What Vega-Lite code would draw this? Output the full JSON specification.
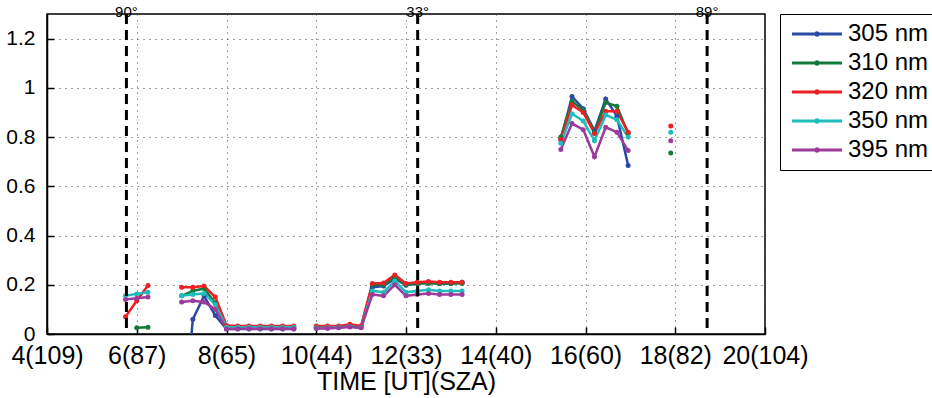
{
 "$schema": "https://vega.github.io/schema/vega-lite/v6.json",
 "width": 718, "height": 320,
 "autosize": {"type": "none"},
 "padding": {"left": 47, "top": 14, "right": 167, "bottom": 64},
 "background": "white",
 "config": {
  "font": "Liberation Sans",
  "view": {"stroke": "black", "strokeWidth": 1.5},
  "axis": {"labelFontSize": 21, "titleFontSize": 25, "labelColor": "black", "titleColor": "black", "titleFontWeight": "normal", "domainColor": "black", "domainWidth": 1.5, "tickColor": "black", "tickWidth": 1.5, "gridColor": "#444", "gridDash": [1, 5], "gridWidth": 1, "labelOverlap": false, "labelFlush": false},
  "legend": {"labelFontSize": 24, "labelColor": "black"}
 },
 "datasets": {
  "meas": [
   {"t": 6.0, "v": 0.025, "w": "310 nm", "s": 1}, {"t": 6.25, "v": 0.027, "w": "310 nm", "s": 1},
   {"t": 5.75, "v": 0.07, "w": "320 nm", "s": 1}, {"t": 6.0, "v": 0.135, "w": "320 nm", "s": 1}, {"t": 6.25, "v": 0.197, "w": "320 nm", "s": 1},
   {"t": 5.75, "v": 0.155, "w": "350 nm", "s": 1}, {"t": 6.0, "v": 0.163, "w": "350 nm", "s": 1}, {"t": 6.25, "v": 0.17, "w": "350 nm", "s": 1},
   {"t": 5.75, "v": 0.14, "w": "395 nm", "s": 1}, {"t": 6.0, "v": 0.145, "w": "395 nm", "s": 1}, {"t": 6.25, "v": 0.15, "w": "395 nm", "s": 1},

   {"t": 7.0, "v": -0.45, "w": "305 nm", "s": 2}, {"t": 7.25, "v": 0.06, "w": "305 nm", "s": 2}, {"t": 7.5, "v": 0.155, "w": "305 nm", "s": 2}, {"t": 7.75, "v": 0.075, "w": "305 nm", "s": 2}, {"t": 8.0, "v": 0.02, "w": "305 nm", "s": 2}, {"t": 8.25, "v": 0.02, "w": "305 nm", "s": 2}, {"t": 8.5, "v": 0.02, "w": "305 nm", "s": 2}, {"t": 8.75, "v": 0.02, "w": "305 nm", "s": 2}, {"t": 9.0, "v": 0.02, "w": "305 nm", "s": 2}, {"t": 9.25, "v": 0.02, "w": "305 nm", "s": 2}, {"t": 9.5, "v": 0.02, "w": "305 nm", "s": 2},
   {"t": 7.0, "v": 0.155, "w": "310 nm", "s": 2}, {"t": 7.25, "v": 0.175, "w": "310 nm", "s": 2}, {"t": 7.5, "v": 0.185, "w": "310 nm", "s": 2}, {"t": 7.75, "v": 0.125, "w": "310 nm", "s": 2}, {"t": 8.0, "v": 0.025, "w": "310 nm", "s": 2}, {"t": 8.25, "v": 0.025, "w": "310 nm", "s": 2}, {"t": 8.5, "v": 0.025, "w": "310 nm", "s": 2}, {"t": 8.75, "v": 0.025, "w": "310 nm", "s": 2}, {"t": 9.0, "v": 0.025, "w": "310 nm", "s": 2}, {"t": 9.25, "v": 0.025, "w": "310 nm", "s": 2}, {"t": 9.5, "v": 0.025, "w": "310 nm", "s": 2},
   {"t": 7.0, "v": 0.19, "w": "320 nm", "s": 2}, {"t": 7.25, "v": 0.19, "w": "320 nm", "s": 2}, {"t": 7.5, "v": 0.195, "w": "320 nm", "s": 2}, {"t": 7.75, "v": 0.15, "w": "320 nm", "s": 2}, {"t": 8.0, "v": 0.035, "w": "320 nm", "s": 2}, {"t": 8.25, "v": 0.033, "w": "320 nm", "s": 2}, {"t": 8.5, "v": 0.033, "w": "320 nm", "s": 2}, {"t": 8.75, "v": 0.033, "w": "320 nm", "s": 2}, {"t": 9.0, "v": 0.033, "w": "320 nm", "s": 2}, {"t": 9.25, "v": 0.033, "w": "320 nm", "s": 2}, {"t": 9.5, "v": 0.033, "w": "320 nm", "s": 2},
   {"t": 7.0, "v": 0.155, "w": "350 nm", "s": 2}, {"t": 7.25, "v": 0.16, "w": "350 nm", "s": 2}, {"t": 7.5, "v": 0.165, "w": "350 nm", "s": 2}, {"t": 7.75, "v": 0.12, "w": "350 nm", "s": 2}, {"t": 8.0, "v": 0.027, "w": "350 nm", "s": 2}, {"t": 8.25, "v": 0.027, "w": "350 nm", "s": 2}, {"t": 8.5, "v": 0.027, "w": "350 nm", "s": 2}, {"t": 8.75, "v": 0.027, "w": "350 nm", "s": 2}, {"t": 9.0, "v": 0.027, "w": "350 nm", "s": 2}, {"t": 9.25, "v": 0.027, "w": "350 nm", "s": 2}, {"t": 9.5, "v": 0.027, "w": "350 nm", "s": 2},
   {"t": 7.0, "v": 0.13, "w": "395 nm", "s": 2}, {"t": 7.25, "v": 0.135, "w": "395 nm", "s": 2}, {"t": 7.5, "v": 0.13, "w": "395 nm", "s": 2}, {"t": 7.75, "v": 0.1, "w": "395 nm", "s": 2}, {"t": 8.0, "v": 0.02, "w": "395 nm", "s": 2}, {"t": 8.25, "v": 0.021, "w": "395 nm", "s": 2}, {"t": 8.5, "v": 0.021, "w": "395 nm", "s": 2}, {"t": 8.75, "v": 0.021, "w": "395 nm", "s": 2}, {"t": 9.0, "v": 0.021, "w": "395 nm", "s": 2}, {"t": 9.25, "v": 0.021, "w": "395 nm", "s": 2}, {"t": 9.5, "v": 0.021, "w": "395 nm", "s": 2},

   {"t": 10.0, "v": 0.025, "w": "305 nm", "s": 3}, {"t": 10.25, "v": 0.025, "w": "305 nm", "s": 3}, {"t": 10.5, "v": 0.027, "w": "305 nm", "s": 3}, {"t": 10.75, "v": 0.03, "w": "305 nm", "s": 3}, {"t": 11.0, "v": 0.027, "w": "305 nm", "s": 3}, {"t": 11.25, "v": 0.19, "w": "305 nm", "s": 3}, {"t": 11.5, "v": 0.195, "w": "305 nm", "s": 3}, {"t": 11.75, "v": 0.225, "w": "305 nm", "s": 3}, {"t": 12.0, "v": 0.198, "w": "305 nm", "s": 3}, {"t": 12.25, "v": 0.205, "w": "305 nm", "s": 3}, {"t": 12.5, "v": 0.21, "w": "305 nm", "s": 3}, {"t": 12.75, "v": 0.205, "w": "305 nm", "s": 3}, {"t": 13.0, "v": 0.205, "w": "305 nm", "s": 3}, {"t": 13.25, "v": 0.21, "w": "305 nm", "s": 3},
   {"t": 10.0, "v": 0.028, "w": "310 nm", "s": 3}, {"t": 10.25, "v": 0.028, "w": "310 nm", "s": 3}, {"t": 10.5, "v": 0.03, "w": "310 nm", "s": 3}, {"t": 10.75, "v": 0.035, "w": "310 nm", "s": 3}, {"t": 11.0, "v": 0.03, "w": "310 nm", "s": 3}, {"t": 11.25, "v": 0.2, "w": "310 nm", "s": 3}, {"t": 11.5, "v": 0.2, "w": "310 nm", "s": 3}, {"t": 11.75, "v": 0.23, "w": "310 nm", "s": 3}, {"t": 12.0, "v": 0.2, "w": "310 nm", "s": 3}, {"t": 12.25, "v": 0.205, "w": "310 nm", "s": 3}, {"t": 12.5, "v": 0.205, "w": "310 nm", "s": 3}, {"t": 12.75, "v": 0.205, "w": "310 nm", "s": 3}, {"t": 13.0, "v": 0.205, "w": "310 nm", "s": 3}, {"t": 13.25, "v": 0.205, "w": "310 nm", "s": 3},
   {"t": 10.0, "v": 0.032, "w": "320 nm", "s": 3}, {"t": 10.25, "v": 0.032, "w": "320 nm", "s": 3}, {"t": 10.5, "v": 0.033, "w": "320 nm", "s": 3}, {"t": 10.75, "v": 0.04, "w": "320 nm", "s": 3}, {"t": 11.0, "v": 0.033, "w": "320 nm", "s": 3}, {"t": 11.25, "v": 0.205, "w": "320 nm", "s": 3}, {"t": 11.5, "v": 0.207, "w": "320 nm", "s": 3}, {"t": 11.75, "v": 0.24, "w": "320 nm", "s": 3}, {"t": 12.0, "v": 0.205, "w": "320 nm", "s": 3}, {"t": 12.25, "v": 0.21, "w": "320 nm", "s": 3}, {"t": 12.5, "v": 0.213, "w": "320 nm", "s": 3}, {"t": 12.75, "v": 0.21, "w": "320 nm", "s": 3}, {"t": 13.0, "v": 0.21, "w": "320 nm", "s": 3}, {"t": 13.25, "v": 0.21, "w": "320 nm", "s": 3},
   {"t": 10.0, "v": 0.025, "w": "350 nm", "s": 3}, {"t": 10.25, "v": 0.025, "w": "350 nm", "s": 3}, {"t": 10.5, "v": 0.027, "w": "350 nm", "s": 3}, {"t": 10.75, "v": 0.03, "w": "350 nm", "s": 3}, {"t": 11.0, "v": 0.027, "w": "350 nm", "s": 3}, {"t": 11.25, "v": 0.175, "w": "350 nm", "s": 3}, {"t": 11.5, "v": 0.17, "w": "350 nm", "s": 3}, {"t": 11.75, "v": 0.215, "w": "350 nm", "s": 3}, {"t": 12.0, "v": 0.17, "w": "350 nm", "s": 3}, {"t": 12.25, "v": 0.175, "w": "350 nm", "s": 3}, {"t": 12.5, "v": 0.18, "w": "350 nm", "s": 3}, {"t": 12.75, "v": 0.175, "w": "350 nm", "s": 3}, {"t": 13.0, "v": 0.175, "w": "350 nm", "s": 3}, {"t": 13.25, "v": 0.175, "w": "350 nm", "s": 3},
   {"t": 10.0, "v": 0.022, "w": "395 nm", "s": 3}, {"t": 10.25, "v": 0.022, "w": "395 nm", "s": 3}, {"t": 10.5, "v": 0.025, "w": "395 nm", "s": 3}, {"t": 10.75, "v": 0.028, "w": "395 nm", "s": 3}, {"t": 11.0, "v": 0.025, "w": "395 nm", "s": 3}, {"t": 11.25, "v": 0.16, "w": "395 nm", "s": 3}, {"t": 11.5, "v": 0.155, "w": "395 nm", "s": 3}, {"t": 11.75, "v": 0.2, "w": "395 nm", "s": 3}, {"t": 12.0, "v": 0.155, "w": "395 nm", "s": 3}, {"t": 12.25, "v": 0.16, "w": "395 nm", "s": 3}, {"t": 12.5, "v": 0.165, "w": "395 nm", "s": 3}, {"t": 12.75, "v": 0.16, "w": "395 nm", "s": 3}, {"t": 13.0, "v": 0.16, "w": "395 nm", "s": 3}, {"t": 13.25, "v": 0.16, "w": "395 nm", "s": 3},

   {"t": 15.45, "v": 0.79, "w": "305 nm", "s": 4}, {"t": 15.7, "v": 0.965, "w": "305 nm", "s": 4}, {"t": 15.95, "v": 0.915, "w": "305 nm", "s": 4}, {"t": 16.2, "v": 0.825, "w": "305 nm", "s": 4}, {"t": 16.45, "v": 0.955, "w": "305 nm", "s": 4}, {"t": 16.7, "v": 0.885, "w": "305 nm", "s": 4}, {"t": 16.95, "v": 0.685, "w": "305 nm", "s": 4},
   {"t": 15.45, "v": 0.8, "w": "310 nm", "s": 4}, {"t": 15.7, "v": 0.945, "w": "310 nm", "s": 4}, {"t": 15.95, "v": 0.91, "w": "310 nm", "s": 4}, {"t": 16.2, "v": 0.82, "w": "310 nm", "s": 4}, {"t": 16.45, "v": 0.94, "w": "310 nm", "s": 4}, {"t": 16.7, "v": 0.925, "w": "310 nm", "s": 4}, {"t": 16.95, "v": 0.815, "w": "310 nm", "s": 4},
   {"t": 15.45, "v": 0.79, "w": "320 nm", "s": 4}, {"t": 15.7, "v": 0.93, "w": "320 nm", "s": 4}, {"t": 15.95, "v": 0.9, "w": "320 nm", "s": 4}, {"t": 16.2, "v": 0.815, "w": "320 nm", "s": 4}, {"t": 16.45, "v": 0.905, "w": "320 nm", "s": 4}, {"t": 16.7, "v": 0.905, "w": "320 nm", "s": 4}, {"t": 16.95, "v": 0.82, "w": "320 nm", "s": 4},
   {"t": 15.45, "v": 0.775, "w": "350 nm", "s": 4}, {"t": 15.7, "v": 0.895, "w": "350 nm", "s": 4}, {"t": 15.95, "v": 0.865, "w": "350 nm", "s": 4}, {"t": 16.2, "v": 0.785, "w": "350 nm", "s": 4}, {"t": 16.45, "v": 0.89, "w": "350 nm", "s": 4}, {"t": 16.7, "v": 0.87, "w": "350 nm", "s": 4}, {"t": 16.95, "v": 0.8, "w": "350 nm", "s": 4},
   {"t": 15.45, "v": 0.75, "w": "395 nm", "s": 4}, {"t": 15.7, "v": 0.855, "w": "395 nm", "s": 4}, {"t": 15.95, "v": 0.83, "w": "395 nm", "s": 4}, {"t": 16.2, "v": 0.72, "w": "395 nm", "s": 4}, {"t": 16.45, "v": 0.84, "w": "395 nm", "s": 4}, {"t": 16.7, "v": 0.82, "w": "395 nm", "s": 4}, {"t": 16.95, "v": 0.745, "w": "395 nm", "s": 4},

   {"t": 17.9, "v": 0.735, "w": "310 nm", "s": 5},
   {"t": 17.9, "v": 0.845, "w": "320 nm", "s": 5},
   {"t": 17.9, "v": 0.82, "w": "350 nm", "s": 5},
   {"t": 17.9, "v": 0.785, "w": "395 nm", "s": 5}
  ],
  "sza": [
   {"t": 5.77, "lab": "90°"},
   {"t": 12.26, "lab": "33°"},
   {"t": 18.71, "lab": "89°"}
  ]
 },
 "layer": [
  {
   "data": {"name": "meas"},
   "mark": {"type": "line", "strokeWidth": 2.5, "clip": true},
   "encoding": {
    "x": {"field": "t", "type": "quantitative", "scale": {"domain": [4, 20], "nice": false},
     "axis": {"values": [4, 6, 8, 10, 12, 14, 16, 18, 20], "tickSize": -7, "labelPadding": 16, "labelFontSize": 25, "grid": true, "title": "TIME [UT](SZA)", "titlePadding": 1,
      "labelExpr": "datum.value==4?'4(109)':datum.value==6?'6(87)':datum.value==8?'8(65)':datum.value==10?'10(44)':datum.value==12?'12(33)':datum.value==14?'14(40)':datum.value==16?'16(60)':datum.value==18?'18(82)':'20(104)'"}},
    "y": {"field": "v", "type": "quantitative", "scale": {"domain": [0, 1.3], "nice": false, "zero": false},
     "axis": {"values": [0, 0.2, 0.4, 0.6, 0.8, 1, 1.2], "tickSize": -7, "labelPadding": 19, "grid": true, "title": null, "labelExpr": "format(datum.value, '~g')"}},
    "color": {"field": "w", "type": "nominal",
     "scale": {"domain": ["305 nm", "310 nm", "320 nm", "350 nm", "395 nm"], "range": ["#2a4aa3", "#137a3c", "#ec1f25", "#1fbcbc", "#9c3b9c"]},
     "legend": {"title": null, "orient": "none", "legendX": 733, "legendY": 0, "strokeColor": "black", "fillColor": "white", "padding": 8,
      "symbolType": "M-2.5,0H2.5M-0.12,0A0.12,0.12,0,1,1,0.12,0A0.12,0.12,0,1,1,-0.12,0", "symbolSize": 400, "symbolStrokeWidth": 3, "symbolOffset": 17, "labelOffset": 19, "rowPadding": 5, "labelFontSize": 24}},
    "detail": {"field": "s", "type": "nominal"}
   }
  },
  {
   "data": {"name": "meas"},
   "mark": {"type": "point", "filled": true, "size": 25, "opacity": 1, "clip": true},
   "encoding": {
    "x": {"field": "t", "type": "quantitative"},
    "y": {"field": "v", "type": "quantitative"},
    "color": {"field": "w", "type": "nominal"}
   }
  },
  {
   "data": {"name": "sza"},
   "mark": {"type": "rule", "strokeDash": [10, 6], "strokeWidth": 3, "color": "black"},
   "encoding": {"x": {"field": "t", "type": "quantitative"}}
  },
  {
   "data": {"name": "sza"},
   "mark": {"type": "text", "fontSize": 15, "baseline": "alphabetic", "dy": 3, "color": "black"},
   "encoding": {"x": {"field": "t", "type": "quantitative"}, "y": {"datum": 1.3}, "text": {"field": "lab"}}
  }
 ]
}
